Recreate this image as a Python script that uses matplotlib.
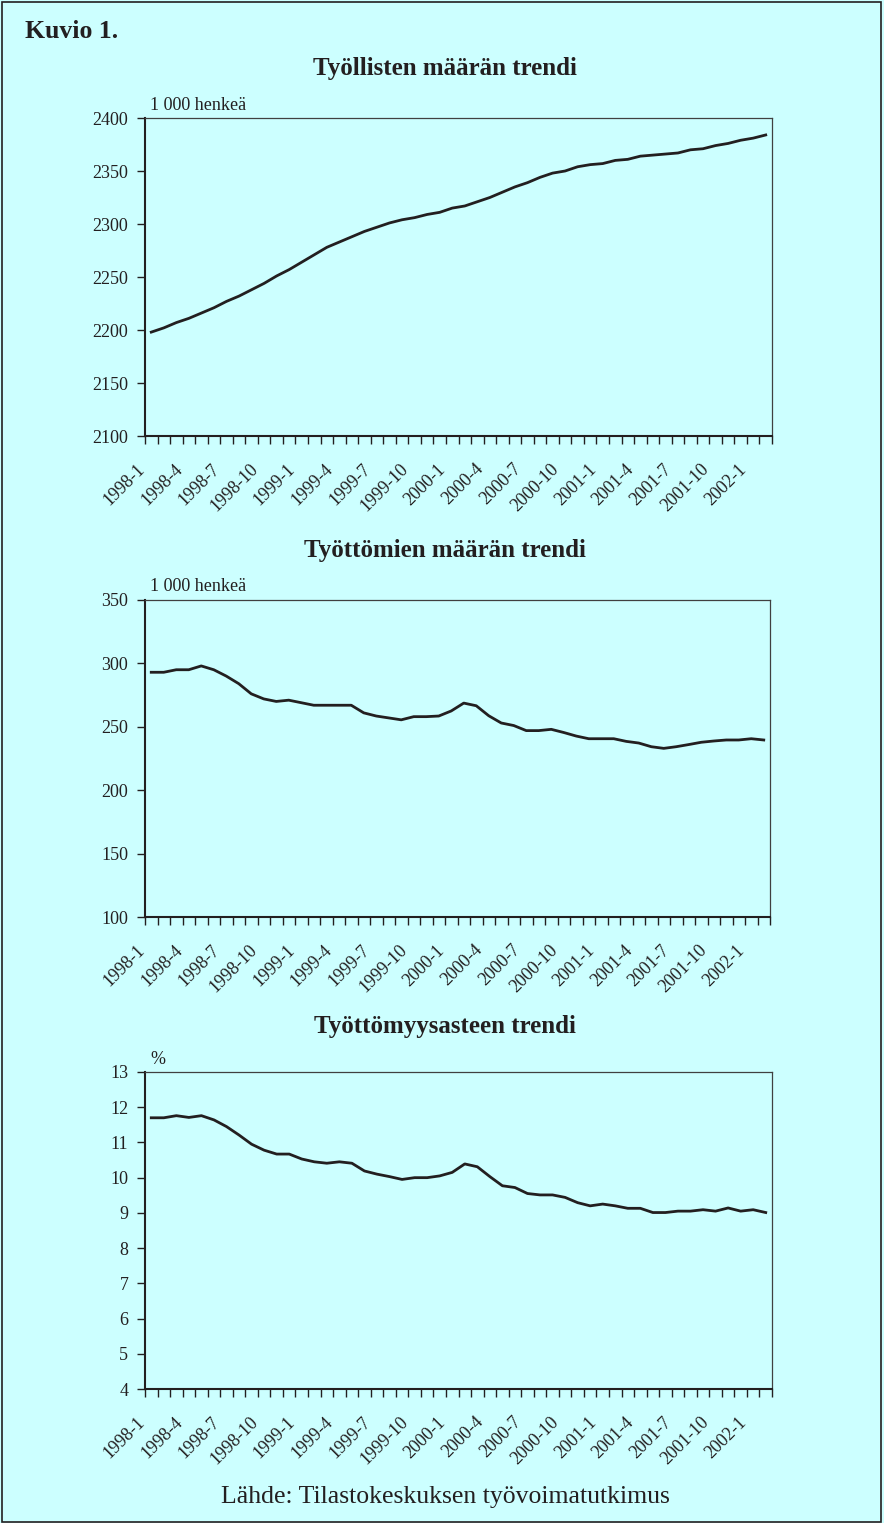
import matplotlib
matplotlib.use("Agg")
import matplotlib.pyplot as plt
from matplotlib.patches import Rectangle
from matplotlib.transforms import ScaledTranslation

plt.rcParams['font.family'] = ['Liberation Serif', 'DejaVu Serif']

# ---- data ----
months = [f"{y}-{m}" for y in range(1998, 2003) for m in range(1, 13)][:50]  # 1998-1 .. 2002-2

employed = [2198, 2202, 2207, 2211, 2216, 2221, 2227, 2232, 2238, 2244,
            2251, 2257, 2264, 2271, 2278, 2283, 2288, 2293, 2297, 2301,
            2304, 2306, 2309, 2311, 2315, 2317, 2321, 2325, 2330, 2335,
            2339, 2344, 2348, 2350, 2354, 2356, 2357, 2360, 2361, 2364,
            2365, 2366, 2367, 2370, 2371, 2374, 2376, 2379, 2381, 2384]

unemployed = [293, 293, 295, 295, 298, 295, 290, 284, 276, 272,
              270, 271, 269, 267, 267, 267, 267, 261, 258.5, 257,
              255.5, 258, 258, 258.5, 262.5, 268.7, 266.6, 258.7, 253, 251,
              247, 247, 248, 245.5, 242.7, 240.6, 240.6, 240.6, 238.5, 237.2,
              234.3, 233, 234.3, 236, 237.8, 238.8, 239.6, 239.6, 240.6, 239.6]

rate = [11.70, 11.70, 11.76, 11.71, 11.76, 11.64, 11.45, 11.21, 10.95, 10.78,
        10.67, 10.67, 10.53, 10.45, 10.41, 10.45, 10.41, 10.19, 10.10, 10.03,
        9.95, 10.00, 10.00, 10.05, 10.15, 10.39, 10.31, 10.03, 9.77, 9.72,
        9.55, 9.51, 9.51, 9.44, 9.29, 9.20, 9.25, 9.20, 9.13, 9.13,
        9.01, 9.01, 9.05, 9.05, 9.09, 9.05, 9.14, 9.05, 9.09, 9.01]

titles = ["Työllisten määrän trendi", "Työttömien määrän trendi", "Työttömyysasteen trendi"]
units = ["1 000 henkeä", "1 000 henkeä", "%"]
yticks_list = [list(range(2100, 2401, 50)), list(range(100, 351, 50)), list(range(4, 14))]
series_list = [employed, unemployed, rate]

# ---- figure ----
W, H = 884, 1523
fig = plt.figure(figsize=(W / 100, H / 100), dpi=100)
bg = '#CCFFFF'
ink = '#231F20'
fig.patch.set_facecolor(bg)
fig.patches.append(Rectangle((2 / W, 1 / H), (W - 5) / W, (H - 3) / H, transform=fig.transFigure,
                             fill=False, edgecolor=ink, linewidth=1.2))

fig.text(25 / W, 1 - 32 / H, "Kuvio 1.", fontsize=18.5, fontweight='bold', ha='left', va='center',
         color=ink)

# axes boxes in pixels: (left, top, right, bottom)
boxes = [(145, 118, 772, 436), (145, 600, 770, 917), (145, 1072, 772, 1389)]
title_y = [68, 551, 1027]

x = list(range(len(months)))
for k in range(3):
    l, t, r, b = boxes[k]
    ax = fig.add_axes([l / W, 1 - b / H, (r - l) / W, (b - t) / H])
    ax.set_facecolor(bg)
    ax.plot(x, series_list[k], color=ink, linewidth=2.0, solid_joinstyle='round')
    ax.set_xlim(-0.5, len(months) - 0.5)
    yt = yticks_list[k]
    ax.set_ylim(yt[0], yt[-1])
    ax.set_yticks(yt)
    ax.set_yticklabels([str(v) for v in yt], fontsize=13, color=ink)
    ax.tick_params(axis='y', direction='out', length=6, width=1.0, pad=6, colors=ink)
    # x: tick marks at category boundaries, labels at every 3rd category
    ax.set_xticks([i - 0.5 for i in range(len(months) + 1)], minor=True)
    ax.set_xticks(x[::3])
    ax.set_xticklabels(months[::3], rotation=45, ha='right', va='center',
                       rotation_mode='anchor', fontsize=13, color=ink)
    ax.tick_params(axis='x', which='major', length=0, pad=22)
    ax.tick_params(axis='x', which='minor', direction='out', length=6, width=1.0, colors=ink)
    for lab in ax.get_xticklabels():
        lab.set_transform(lab.get_transform() + ScaledTranslation(-0.09, 0, fig.dpi_scale_trans))
    for s in ['left', 'bottom']:
        ax.spines[s].set_color(ink)
        ax.spines[s].set_linewidth(1.5)
    for s in ['top', 'right']:
        ax.spines[s].set_color('#404040')
        ax.spines[s].set_linewidth(0.9)
    fig.text(445 / W, 1 - title_y[k] / H, titles[k], fontsize=18, fontweight='bold',
             ha='center', va='center', color=ink)
    fig.text((l + 5) / W, 1 - (t - 13) / H, units[k], fontsize=13, ha='left', va='center',
             color=ink)

fig.text(445 / W, 1 - 1497 / H, "Lähde: Tilastokeskuksen työvoimatutkimus", fontsize=18.5,
         ha='center', va='center', color=ink)

fig.savefig("out.png", dpi=100, facecolor=bg)
